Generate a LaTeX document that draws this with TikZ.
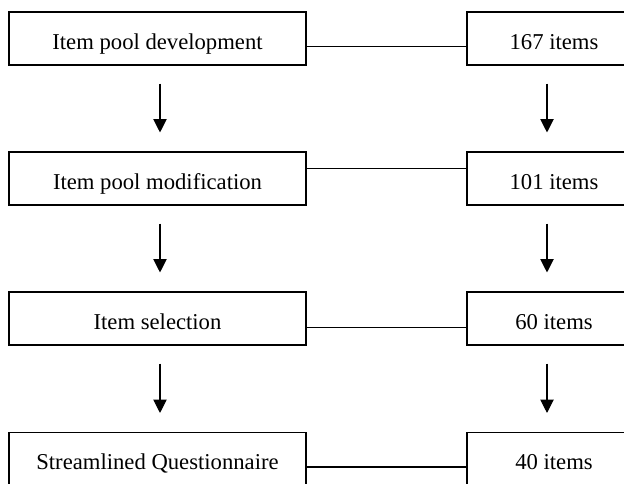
\documentclass[tikz,border=0pt]{standalone}
\usepackage{fontspec}
\setmainfont{Liberation Serif}
\usetikzlibrary{calc,arrows.meta}

\tikzset{
  stage/.style={draw, line width=0.8pt, minimum width=222.75pt, minimum height=39.75pt,
    text height=16pt, text depth=0pt, font=\fontsize{17pt}{19pt}\selectfont},
  tally/.style={stage, minimum width=130.5pt},
  link/.style={line width=0.8pt},
  flow/.style={line width=0.8pt, -{Triangle[width=10pt,length=10pt]}}
}

\begin{document}
\begin{tikzpicture}[x=0.75pt,y=0.75pt]
                      \useasboundingbox (0,0) rectangle (624,483);
                      \clip (0,0) rectangle (624,483);
                      % stages on the left, item counts on the right
                      \node [stage] (s1) at (157.5,444.5) {Item pool development};
                      \node [stage] (s2) at (157.5,304.5) {Item pool modification};
                      \node [stage] (s3) at (157.5,164.5) {Item selection};
                      \node [stage] (s4) at (157.5,24) {Streamlined Questionnaire};
                      \node [tally] (n1) at (554,444.5) {167 items};
                      \node [tally] (n2) at (554,304.5) {101 items};
                      \node [tally] (n3) at (554,164.5) {60 items};
                      \node [tally] (n4) at (554,24) {40 items};
                      % links between the two columns
                      \draw [link] ($(s1.north east)+(0,-35)$) -- ($(n1.north west)+(0,-35)$);
                      \draw [link] ($(s2.north east)+(0,-17)$) -- ($(n2.north west)+(0,-17)$);
                      \draw [link] ($(s3.north east)+(0,-36)$) -- ($(n3.north west)+(0,-36)$);
                      \draw [link] ($(s4.north east)+(0,-35)$) -- ($(n4.north west)+(0,-35)$);
                      % arrows
                      \draw [flow] ([shift={(2.5,-18)}]s1.south) -- ([shift={(2.5,19)}]s2.north);
                      \draw [flow] ([shift={(2.5,-18)}]s2.south) -- ([shift={(2.5,19)}]s3.north);
                      \draw [flow] ([shift={(2.5,-18)}]s3.south) -- ([shift={(2.5,19)}]s4.north);
                      \draw [flow] ([shift={(-7,-18)}]n1.south) -- ([shift={(-7,19)}]n2.north);
                      \draw [flow] ([shift={(-7,-18)}]n2.south) -- ([shift={(-7,19)}]n3.north);
                      \draw [flow] ([shift={(-7,-18)}]n3.south) -- ([shift={(-7,19)}]n4.north);
                  \end{tikzpicture}
\end{document}
